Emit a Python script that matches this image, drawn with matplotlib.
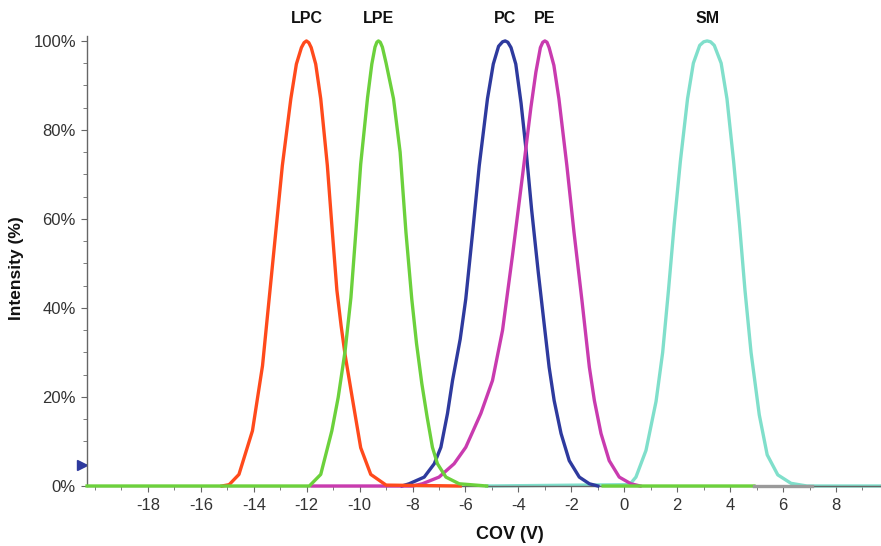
import matplotlib
matplotlib.use('Agg')
import matplotlib.pyplot as plt
import matplotlib.transforms as mtransforms
import numpy as np

plt.rcParams['font.family'] = ['Liberation Sans', 'DejaVu Sans']
plt.rcParams['axes.unicode_minus'] = False

# curves: COV (V) and intensity (%)
lpc_x = [-15.2, -14.93, -14.56, -14.05, -13.67, -13.42, -13.17, -12.92, -12.6, -12.39, -12.2,
         -12.1, -12.01, -11.92, -11.83, -11.66, -11.47, -11.22, -11.03, -10.86, -10.7, -10.55,
         -10.27, -9.96, -9.58, -9.0, -6.2]
lpc_y = [0, 0.3, 2.6, 12.4, 27, 42, 57, 72, 87, 94.8, 98.5,
         99.6, 100, 99.6, 98.5, 94.8, 87, 72, 57, 44, 36, 29.5,
         19.5, 8.6, 2.6, 0.2, 0]

lpe_x = [-20.3, -11.9, -11.47, -11.05, -10.81, -10.55, -10.33, -10.14, -9.96, -9.70, -9.54,
         -9.42, -9.35, -9.29, -9.22, -9.14, -9.0, -8.72, -8.47, -8.25, -8.03, -7.85, -7.65,
         -7.45, -7.25, -7.06, -6.74, -6.24, -5.2, np.nan, -0.8, 4.9]
lpe_y = [0, 0, 2.6, 12.4, 19.9, 30.3, 42.3, 57.3, 72.3, 87.3, 94.8,
         98.6, 99.7, 100, 99.7, 98.6, 95, 87, 75, 57, 42, 32, 23,
         15.5, 8.7, 5, 2, 0.5, 0, np.nan, 0, 0]

pc_x = [-8.4, -8.13, -7.56, -7.18, -6.93, -6.68, -6.49, -6.2, -5.99, -5.73, -5.48, -5.17,
        -4.95, -4.75, -4.6, -4.5, -4.4, -4.28, -4.1, -3.9, -3.72, -3.5, -3.25, -3.02, -2.84,
        -2.65, -2.39, -2.08, -1.7, -1.32, -1.0]
pc_y = [0, 0.5, 2, 5, 8.7, 16.3, 23.7, 33, 42, 57, 72, 87,
        94.8, 98.8, 99.8, 100, 99.7, 98.5, 94.8, 86, 76, 62, 48, 36, 26.7,
        19.2, 11.8, 5.7, 2.0, 0.5, 0]

pe_x = [-11.8, -8.0, -7.63, -7.0, -6.43, -5.99, -5.42, -4.98, -4.6, -4.22, -3.84, -3.53,
        -3.34, -3.17, -3.08, -3.0, -2.92, -2.84, -2.66, -2.47, -2.17, -1.9, -1.6, -1.32,
        -1.13, -0.88, -0.57, -0.19, 0.25, 0.6]
pe_y = [0, 0, 0.5, 2, 5, 8.7, 16.3, 23.7, 35, 52, 70, 85,
        93, 98.5, 99.7, 100, 99.7, 98.5, 94.5, 87, 72, 57, 41.7, 26.7,
        19.2, 11.8, 5.7, 2.0, 0.5, 0]

sm_x = [-5.2, 0.2, 0.44, 0.82, 1.2, 1.45, 1.67, 1.89, 2.12, 2.39, 2.61, 2.85, 3.0, 3.13,
        3.26, 3.4, 3.66, 3.88, 4.13, 4.35, 4.56, 4.79, 5.1, 5.4, 5.8, 6.3, 6.9, 9.7]
sm_y = [0, 0.3, 2, 8, 19, 30, 44, 59, 73, 87, 95, 99, 99.8, 100,
        99.8, 99, 95, 87, 73, 59, 44, 30, 16, 7, 2.5, 0.6, 0, 0]

other_x = [4.9, 7.1]
other_y = [0, 0]

peak_names = ['LPC', 'LPE', 'PC', 'PE', 'SM']
peak_pos = [-12.0, -9.3, -4.5, -3.0, 3.13]

fig = plt.figure(figsize=(8.81, 5.46), dpi=100)
ax = fig.add_axes([0.0988, 0.1099, 0.9012, 0.8233])

lw = 2.4
ax.plot(sm_x, sm_y, color='#80DFCB', lw=lw, zorder=2, clip_on=False)
ax.plot(pc_x, pc_y, color='#2E3A9E', lw=lw, zorder=3, clip_on=False)
ax.plot(pe_x, pe_y, color='#C93BAF', lw=lw, zorder=4, clip_on=False)
ax.plot(lpc_x, lpc_y, color='#FF4A1C', lw=lw, zorder=5, clip_on=False)
ax.plot(lpe_x, lpe_y, color='#6CD13C', lw=lw, zorder=6, clip_on=False)
ax.plot(other_x, other_y, color='#9A9A9A', lw=lw, zorder=7, clip_on=False)

for name, pos in zip(peak_names, peak_pos):
    ax.text(pos, 105.0, name, ha='center', va='center', fontsize=11.5,
            fontweight='bold', color='#111111', clip_on=False)

# small marker on the left axis
trans = mtransforms.blended_transform_factory(ax.transAxes, ax.transData)
ax.plot([-0.006], [4.7], marker='>', markersize=6.5, color='#2E3A9E',
        transform=trans, clip_on=False)

ax.set_xlim(-20.3, 9.7)
ax.set_ylim(0, 101)
ax.set_xticks(np.arange(-18, 9, 2))
ax.set_xticks(np.arange(-20, 10, 1), minor=True)
ax.set_yticks(np.arange(0, 101, 20))
ax.set_yticks(np.arange(0, 101, 5), minor=True)
ax.set_yticklabels([f'{v}%' for v in range(0, 101, 20)])

for s in ['top', 'right']:
    ax.spines[s].set_visible(False)
for s in ['left', 'bottom']:
    ax.spines[s].set_color('#666666')
    ax.spines[s].set_linewidth(1.0)

ax.tick_params(axis='both', which='both', color='#666666', direction='out')
ax.tick_params(axis='both', which='major', length=4, labelsize=12,
               labelcolor='#333333', pad=5)
ax.tick_params(axis='y', which='major', pad=4)
ax.tick_params(axis='both', which='minor', length=3)

ax.set_xlabel('COV (V)', fontsize=13, fontweight='bold', color='#111111')
ax.xaxis.set_label_coords(0.533, -0.088)
ax.set_ylabel('Intensity (%)', fontsize=12.5, fontweight='bold', color='#111111')
ax.yaxis.set_label_coords(-0.08, 0.485)

fig.savefig('out.png', dpi=100)
